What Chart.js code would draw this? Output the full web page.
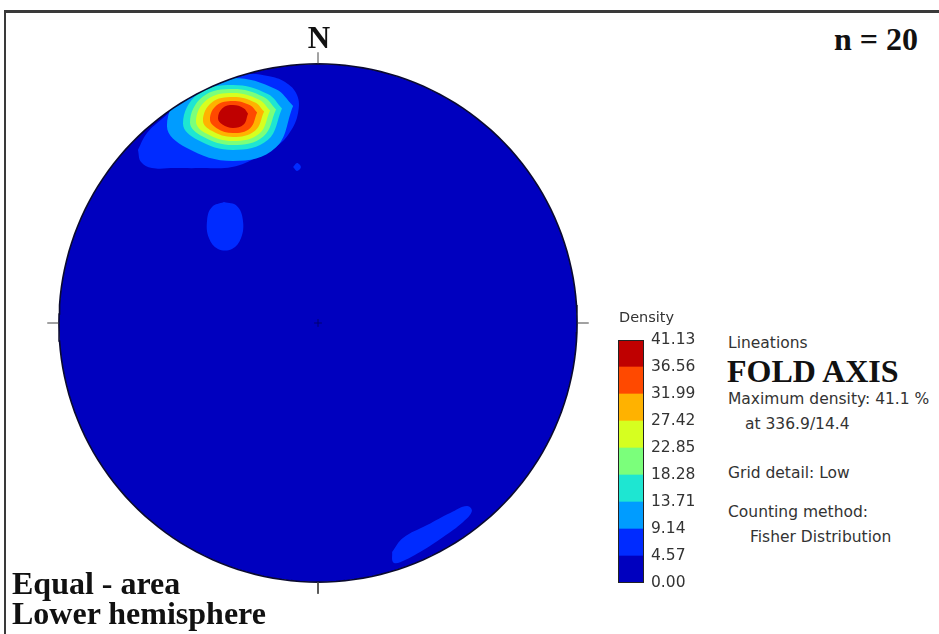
<!DOCTYPE html>
<html>
<head>
<meta charset="utf-8">
<script src="https://cdn.jsdelivr.net/npm/chart.js@4.4.0/dist/chart.umd.min.js"></script>
<style>
  html, body { margin: 0; padding: 0; background: #fff; }
  body { width: 939px; height: 634px; position: relative; overflow: hidden; }
  .frame { position: absolute; left: 4px; top: 10px; width: 950px; height: 650px;
           border-top: 3px solid #3a3a3a; border-left: 2px solid #3a3a3a; }
  .box { position: absolute; }
  .serif { position: absolute; font-family: "Liberation Serif", "DejaVu Serif", serif;
           font-weight: bold; color: #111; line-height: 1; white-space: nowrap; }
  .sans { position: absolute; font-family: "DejaVu Sans", sans-serif; color: #333;
          font-size: 15.5px; line-height: 1; white-space: nowrap; }
</style>
</head>
<body>
<div class="frame"></div>

<div class="box" style="left:33px;top:38px;width:570px;height:570px"><canvas id="net"></canvas></div>
<div class="box" style="left:618px;top:324px;width:82px;height:275px"><canvas id="bar"></canvas></div>

<div class="serif" style="left:319px;top:22px;font-size:31px;transform:translateX(-50%)">N</div>
<div class="serif" style="left:834px;top:23px;font-size:32px">n = 20</div>
<div class="serif" style="left:12px;top:567px;font-size:32px">Equal - area</div>
<div class="serif" style="left:12px;top:597px;font-size:32px">Lower hemisphere</div>

<div class="sans" style="left:619px;top:310px;font-size:14.5px">Density</div>
<div class="sans" style="left:728px;top:336px">Lineations</div>
<div class="serif" style="left:727px;top:355px;font-size:32px">FOLD AXIS</div>
<div class="sans" style="left:728px;top:392px">Maximum density: 41.1 %</div>
<div class="sans" style="left:745px;top:417px">at 336.9/14.4</div>
<div class="sans" style="left:728px;top:466px">Grid detail: Low</div>
<div class="sans" style="left:728px;top:505px">Counting method:</div>
<div class="sans" style="left:750px;top:530px">Fisher Distribution</div>

<script>
// density levels (%) and the jet colours of the 9 bands between them
const levels = [0.00, 4.57, 9.14, 13.71, 18.28, 22.85, 27.42, 31.99, 36.56, 41.13];
const bandColors = ['#0000bf', '#002bff', '#009cff', '#1ee6d2', '#7bff7b',
                    '#d6ff20', '#ffb200', '#ff4900', '#bf0000'];

// contour outlines in net units (primitive circle radius = 100, x east, y north)
const contour457 = [[-69.5, 66.8], [-66.0, 73.3], [-59.8, 79.1], [-53.3, 84.5], [-46.7, 89.2],
  [-39.8, 92.6], [-33.2, 95.0], [-26.2, 96.1], [-19.3, 95.3], [-12.7, 93.0], [-8.1, 88.0],
  [-7.7, 81.1], [-10.8, 73.7], [-15.8, 68.3], [-23.2, 64.1], [-33.2, 60.2], [-45.5, 59.8],
  [-55.2, 59.8], [-64.1, 59.8], [-68.3, 62.1]];
const blobWest = [[-36.3, 46.7], [-31.3, 45.2], [-29.0, 39.8], [-29.7, 32.8], [-33.2, 28.6],
  [-38.6, 28.6], [-42.1, 32.8], [-42.8, 39.8], [-40.9, 44.8]];
const blobDot = [[-9.6, 60.2], [-8.1, 61.8], [-6.6, 60.2], [-8.1, 58.7]];
const blobSE = [[28.6, -88.4], [32.8, -83.0], [42.1, -78.0], [51.0, -73.3], [57.5, -70.6],
  [59.4, -72.6], [56.0, -76.8], [48.3, -82.6], [39.4, -88.4], [31.7, -92.3], [29.0, -92.3]];
const contour914 = [[-9.6, 83.8], [-16.4, 90.3], [-32.8, 94.6], [-50.8, 90.3], [-58.3, 76.0],
  [-50.8, 67.6], [-32.8, 62.5], [-16.4, 67.6]];
const contour1371 = [[-13.9, 82.8], [-19.4, 88.4], [-32.8, 91.9], [-46.4, 88.4], [-52.1, 77.0],
  [-46.4, 70.6], [-32.8, 66.8], [-19.4, 70.6]];
const contour1828 = [[-16.2, 82.4], [-21.1, 87.3], [-32.8, 90.3], [-44.5, 87.3], [-49.4, 77.4],
  [-44.5, 72.0], [-32.8, 68.7], [-21.1, 72.0]];
const contour2285 = [[-18.5, 82.0], [-22.7, 86.2], [-32.8, 88.8], [-42.9, 86.2], [-47.1, 77.8],
  [-42.9, 73.0], [-32.8, 70.2], [-22.7, 73.0]];
const contour2742 = [[-20.8, 81.6], [-24.3, 85.1], [-32.8, 87.2], [-41.0, 85.1], [-44.4, 78.2],
  [-41.0, 74.2], [-32.8, 71.8], [-24.3, 74.2]];
const contour3199 = [[-23.5, 81.2], [-26.2, 84.0], [-32.8, 85.7], [-39.1, 84.0], [-41.7, 78.6],
  [-39.1, 75.2], [-32.8, 73.3], [-26.2, 75.2]];
const contour3656 = [[-27.0, 80.8], [-28.7, 82.9], [-32.8, 84.1], [-36.9, 82.9], [-38.6, 79.0],
  [-36.9, 76.6], [-32.8, 75.3], [-28.7, 76.6]];

// which band each outline fills
const contourBands = [
  [1, contour457], [1, blobWest], [1, blobDot], [1, blobSE],
  [2, contour914], [3, contour1371], [4, contour1828], [5, contour2285],
  [6, contour2742], [7, contour3199], [8, contour3656]
];

// N, E, S, W tick azimuths on the primitive circle
const netTicks = [0, 90, 180, 270];

const rad = (a) => a * Math.PI / 180;
const closed = (arr) => arr.concat([arr[0]]).map(([x, y]) => ({ x, y }));

const circle = [];
for (let a = 0; a <= 360; a += 2) circle.push({ x: 100 * Math.sin(rad(a)), y: 100 * Math.cos(rad(a)) });

const tickPts = [];
netTicks.forEach((az) => {
  tickPts.push({ x: 100 * Math.sin(rad(az)), y: 100 * Math.cos(rad(az)) });
  tickPts.push({ x: 104.5 * Math.sin(rad(az)), y: 104.5 * Math.cos(rad(az)) });
  tickPts.push({ x: null, y: null });
});

const shape = (pts, color, order) => ({
  data: pts, showLine: true, fill: 'shape', backgroundColor: color,
  borderWidth: 0, pointRadius: 0, tension: 0.4, order
});

const datasets = [shape(circle, bandColors[0], 100)];
contourBands.forEach(([band, pts]) => datasets.push(shape(closed(pts), bandColors[band], 90 - band * 2)));
datasets.push({ data: circle, showLine: true, fill: false, borderColor: '#0a0a30', borderWidth: 1.6,
  pointRadius: 0, order: 1, frame: true });
datasets.push({ data: tickPts, showLine: true, fill: false, borderColor: '#444', borderWidth: 1,
  pointRadius: 0, spanGaps: false, order: 0, frame: true });
datasets.push({ data: [{ x: -1.5, y: 0 }, { x: 1.5, y: 0 }, { x: null, y: null }, { x: 0, y: -1.5 }, { x: 0, y: 1.5 }],
  showLine: true, fill: false, borderColor: '#000070', borderWidth: 1, pointRadius: 0, spanGaps: false, order: 0, frame: true });

// keep density fills inside the primitive circle, frame lines are drawn unclipped
const netClip = {
  id: 'netClip',
  beforeDatasetsDraw(chart) {
    const { ctx, scales: { x, y } } = chart;
    const cx = x.getPixelForValue(0), cy = y.getPixelForValue(0);
    const r = x.getPixelForValue(100) - cx;
    ctx.save();
    ctx.beginPath();
    ctx.arc(cx, cy, r, 0, Math.PI * 2);
    ctx.clip();
    chart.$clipped = true;
  },
  beforeDatasetDraw(chart, args) {
    if (chart.$clipped && chart.data.datasets[args.index].frame) {
      chart.ctx.restore();
      chart.$clipped = false;
    }
  },
  afterDatasetsDraw(chart) {
    if (chart.$clipped) { chart.ctx.restore(); chart.$clipped = false; }
  }
};

new Chart(document.getElementById('net'), {
  type: 'scatter',
  data: { datasets },
  options: {
    responsive: true, maintainAspectRatio: false, animation: false, events: [],
    layout: { padding: 0 },
    plugins: { legend: { display: false }, tooltip: { enabled: false } },
    scales: {
      x: { type: 'linear', min: -110, max: 110, display: false },
      y: { type: 'linear', min: -110, max: 110, display: false }
    }
  },
  plugins: [netClip]
});

const barFrame = {
  id: 'barFrame',
  afterDatasetsDraw(chart) {
    const { ctx, chartArea: a } = chart;
    ctx.save();
    ctx.strokeStyle = '#222';
    ctx.lineWidth = 1;
    ctx.strokeRect(a.left + 0.5, a.top + 0.5, a.right - a.left - 1, a.bottom - a.top - 1);
    ctx.restore();
  }
};

new Chart(document.getElementById('bar'), {
  type: 'bar',
  data: {
    labels: [''],
    datasets: bandColors.map((c, i) => ({
      data: [[levels[i], levels[i + 1]]], backgroundColor: c, borderWidth: 0,
      grouped: false, categoryPercentage: 1, barPercentage: 1
    }))
  },
  options: {
    responsive: true, maintainAspectRatio: false, animation: false, events: [],
    layout: { padding: 0 },
    plugins: { legend: { display: false }, tooltip: { enabled: false } },
    scales: {
      x: { display: false },
      y: {
        position: 'right', min: levels[0], max: levels[levels.length - 1],
        afterBuildTicks: (axis) => { axis.ticks = levels.map((v) => ({ value: v })); },
        afterFit: (axis) => { axis.width = 56; },
        grid: { display: false, drawTicks: false }, border: { display: false },
        ticks: { padding: 7, color: '#333', autoSkip: false,
                 font: { family: 'DejaVu Sans', size: 15.5, lineHeight: '18px' },
                 callback: (v) => Number(v).toFixed(2) }
      }
    }
  },
  plugins: [barFrame]
});
</script>
</body>
</html>
